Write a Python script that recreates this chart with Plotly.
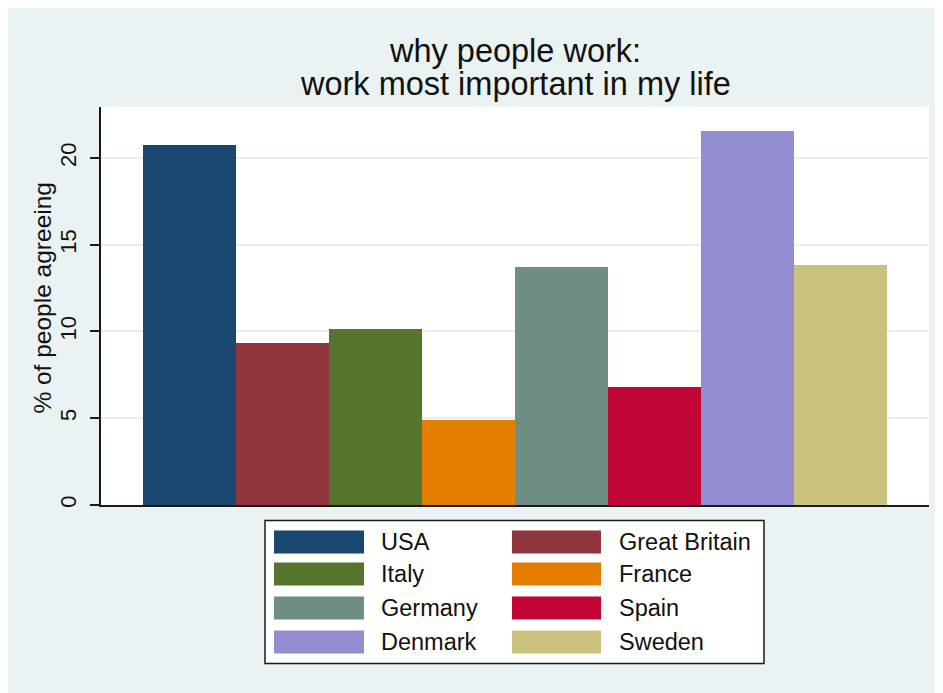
import plotly.graph_objects as go

# ---- data ----
countries = ["USA", "Great Britain", "Italy", "France", "Germany", "Spain", "Denmark", "Sweden"]
pct_agreeing = [20.75, 9.31, 10.12, 4.92, 13.72, 6.78, 21.56, 13.81]
colors = ["#1A476F", "#90353B", "#55752F", "#E37E00", "#6E8E84", "#C10534", "#938DD2", "#CAC27E"]
y_ticks = [0, 5, 10, 15, 20]
title_lines = ["why people work:", "work most important in my life"]
y_title = "% of people agreeing"

FONT = "Liberation Sans, Arial, sans-serif"
BG = "#EAF2F3"
OFF = 8  # page body margin in the browser
W, H = 943 - OFF, 693 - OFF

# plot area in (page) pixels
PL, PR, PT, PB = 101, 929, 107.3, 505.5


def px(x):
    return (x - PL) / (PR - PL)


def py(y):
    return (PB - y) / (PB - PT)


fig = go.Figure()
fig.add_trace(go.Bar(
    x=list(range(len(countries))),
    y=pct_agreeing,
    width=1.0,
    marker=dict(color=colors, line=dict(width=0)),
    name="",
    showlegend=False,
    hoverinfo="y",
))

shapes = [
    dict(type="rect", xref="paper", yref="paper", x0=px(265), x1=px(764), y0=py(664), y1=py(521),
         fillcolor="white", line=dict(color="#1a1a1a", width=1.5), layer="above"),
]
annotations = []

for txt, yc in zip(title_lines, [51, 84]):
    annotations.append(dict(text=txt, xref="paper", yref="paper", x=0.5, y=py(yc),
                            xanchor="center", yanchor="middle", showarrow=False,
                            font=dict(family=FONT, size=32.5, color="#111111")))

annotations.append(dict(text=y_title, xref="paper", yref="paper", x=px(43), y=py(298),
                        xanchor="center", yanchor="middle", textangle=-90, showarrow=False,
                        font=dict(family=FONT, size=24.5, color="#111111")))

col_sw = [(274, 364), (512, 601)]
col_tx = [379, 617]
row_y = [(531, 554), (563, 586), (597, 620), (631, 654)]
for i, (name, col) in enumerate(zip(countries, colors)):
    r, c = divmod(i, 2)
    y0, y1 = row_y[r]
    x0, x1 = col_sw[c]
    shapes.append(dict(type="rect", xref="paper", yref="paper", x0=px(x0), x1=px(x1),
                       y0=py(y1), y1=py(y0), fillcolor=col, line=dict(width=0), layer="above"))
    annotations.append(dict(text=name, xref="paper", yref="paper", x=px(col_tx[c]), y=py((y0 + y1) / 2),
                            xanchor="left", yanchor="middle", showarrow=False,
                            font=dict(family=FONT, size=23.5, color="#111111")))

fig.update_layout(
    width=W, height=H,
    margin=dict(l=PL - OFF, r=943 - PR, t=PT - OFF, b=693 - PB, pad=0),
    paper_bgcolor=BG,
    plot_bgcolor="white",
    showlegend=False,
    bargap=0,
    shapes=shapes,
    annotations=annotations,
    font=dict(family=FONT, color="#111111"),
)
fig.update_xaxes(
    range=[-0.95, 7.95], showticklabels=False, ticks="", showgrid=False, zeroline=False,
    showline=True, linecolor="#1a1a1a", linewidth=2,
)
fig.update_yaxes(
    range=[0, (PB - PT) / 17.36], tickvals=y_ticks, ticktext=[str(v) for v in y_ticks],
    tickangle=-90, ticks="outside", ticklen=9, tickwidth=1.5, tickcolor="#1a1a1a",
    tickfont=dict(family=FONT, size=22, color="#111111"), ticklabelstandoff=5,
    showgrid=True, gridcolor="#E6EEF1", gridwidth=1.5, zeroline=False,
    showline=True, linecolor="#1a1a1a", linewidth=2,
)

fig.write_html("out.html")
